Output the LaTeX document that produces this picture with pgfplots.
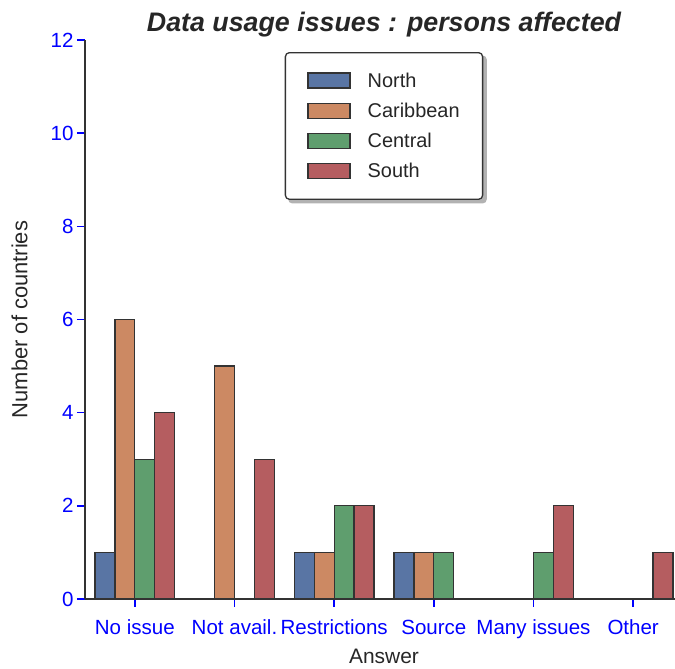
\documentclass[border=0pt]{standalone}
\usepackage{fontspec}
\setmainfont{Liberation Sans}
\usepackage{pgfplots}
\pgfplotsset{compat=1.18}
\pgfdeclarelayer{background}
\pgfsetlayers{background,main}
\definecolor{cN}{HTML}{5975A4}
\definecolor{cC}{HTML}{CC8963}
\definecolor{cT}{HTML}{5F9E6E}
\definecolor{cS}{HTML}{B55D60}
\definecolor{edge}{HTML}{333333}
\definecolor{txt}{HTML}{262626}
\pgfplotsset{
  barstyle/.style={ybar, bar width=0.2, draw=edge, line width=1.3bp,
    legend image code/.code={
      \path (-8bp,0bp) (50bp,0bp);
      \draw[##1, sharp corners, line width=1.3bp] (0bp,-7.5bp) rectangle (42bp,7.5bp);}},
}
\begin{document}
\begin{tikzpicture}
\useasboundingbox (-85bp,-70bp) rectangle (590bp,599bp);
\begin{axis}[
  scale only axis,
  width=598bp, height=559bp,
  xmin=-0.5, xmax=5.5, ymin=0, ymax=12,
  axis lines*=left,
  axis line style={-, draw=edge, line width=1.4bp},
  tick align=outside,
  major tick length=8bp,
  tick style={blue, line width=1.4bp},
  xtick={0,1,2,3,4,5},
  xticklabels={No issue, Not avail., Restrictions, Source, Many issues, Other},
  ytick={0,2,4,6,8,10,12},
  /pgf/number format/assume math mode=true,
  ticklabel style={font=\fontsize{20.6}{24}\selectfont, text=blue},
  xticklabel style={yshift=-9bp, text height=15bp, text depth=4bp},
  title={\itshape\bfseries Data usage issues : persons affected},
  title style={at={(axis description cs:0.5,1)}, anchor=base, yshift=3bp,
    font=\fontsize{26.9}{31}\selectfont, text=txt},
  xlabel={Answer},
  xlabel style={at={(axis description cs:0.5,-0.1145)}, anchor=base,
    font=\fontsize{21}{25}\selectfont, text=txt},
  ylabel={Number of countries},
  ylabel style={at={(axis description cs:-0.0965,0.5)}, rotate=0, anchor=base,
    font=\fontsize{22}{26}\selectfont, text=txt},
  legend style={name=leg, at={(axis description cs:0.5,0.9785)}, anchor=north,
    font=\fontsize{20}{24}\selectfont, text=txt,
    draw=edge, line width=1.3bp, rounded corners=4bp, fill=white,
    inner xsep=14bp, inner ysep=17bp, row sep=8.3bp,
    nodes={inner xsep=9bp, inner ysep=3bp}},
  legend cell align=left,
]
\addplot[barstyle, fill=cN, bar shift=-0.3] coordinates {(0,1) (2,1) (3,1)};
\addlegendentry{North}
\addplot[barstyle, fill=cC, bar shift=-0.1] coordinates {(0,6) (1,5) (2,1) (3,1)};
\addlegendentry{Caribbean}
\addplot[barstyle, fill=cT, bar shift=0.1] coordinates {(0,3) (2,2) (3,1) (4,1)};
\addlegendentry{Central}
\addplot[barstyle, fill=cS, bar shift=0.3] coordinates {(0,4) (1,3) (2,2) (4,2) (5,1)};
\addlegendentry{South}
\end{axis}
\begin{pgfonlayer}{background}
\fill[gray!60, rounded corners=4bp] ([xshift=3.5bp,yshift=-3.5bp]leg.south west) rectangle ([xshift=3.5bp,yshift=-3.5bp]leg.north east);
\end{pgfonlayer}
\end{tikzpicture}
\end{document}
